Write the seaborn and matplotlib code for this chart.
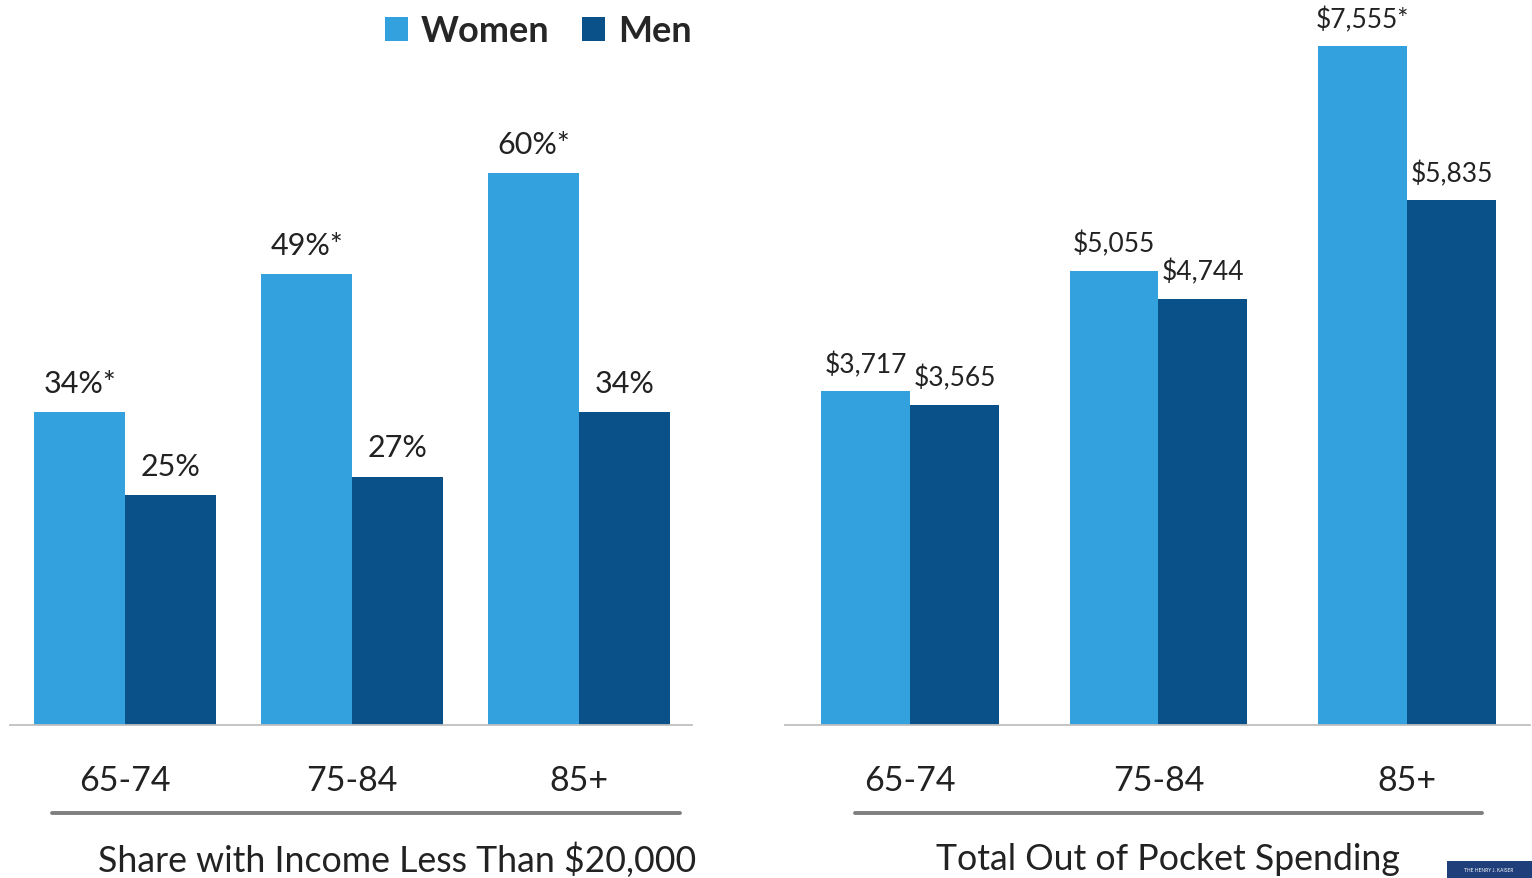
import matplotlib
matplotlib.use("Agg")
import matplotlib.pyplot as plt
import seaborn as sns
import pandas as pd
from matplotlib.patches import Patch, Rectangle
from matplotlib.lines import Line2D

# ---- data ----
age_groups = ["65-74", "75-84", "85+"]
series = ["Women", "Men"]
income_women = [34, 49, 60]
income_men = [25, 27, 34]
income_women_sig = [True, True, True]
income_men_sig = [False, False, False]
spend_women = [3717, 5055, 7555]
spend_men = [3565, 4744, 5835]
spend_women_sig = [False, False, True]
spend_men_sig = [False, False, False]
panel_titles = ["Share with Income Less Than $20,000", "Total Out of Pocket Spending"]
logo_text = "THE HENRY J. KAISER"

palette = {"Women": "#33A1DE", "Men": "#0A5089"}

sns.set_style("white")
plt.rcParams["font.family"] = ["Lato", "DejaVu Sans"]

W, H = 1532, 879
fig = plt.figure(figsize=(W / 100, H / 100), dpi=100)


def make_df(women, men):
    rows = []
    for g, w, m in zip(age_groups, women, men):
        rows.append({"age": g, "sex": "Women", "value": w})
        rows.append({"age": g, "sex": "Men", "value": m})
    return pd.DataFrame(rows)


def style_axis(ax):
    for s in ["top", "right", "left"]:
        ax.spines[s].set_visible(False)
    ax.spines["bottom"].set_color("#BFBFBF")
    ax.spines["bottom"].set_linewidth(1.3)
    ax.set_yticks([])
    ax.set_xlabel("")
    ax.set_ylabel("")
    ax.tick_params(axis="x", length=0, labelsize=24.5, pad=28, labelcolor="#222222")


# ---- left panel ----
axL = fig.add_axes([10 / W, 153 / H, 682 / W, 644 / H])
dfL = make_df(income_women, income_men)
sns.barplot(data=dfL, x="age", y="value", hue="sex", hue_order=series,
            palette=palette, width=0.8, saturation=1, legend=False, ax=axL,
            errorbar=None, linewidth=0, edgecolor="none")
axL.set_ylim(0, 70)
axL.set_xlim(-0.507, 2.498)
style_axis(axL)
for cont, vals, sig in zip(axL.containers, [income_women, income_men],
                           [income_women_sig, income_men_sig]):
    labels = [f"{v}%" + ("*" if s else "") for v, s in zip(vals, sig)]
    axL.bar_label(cont, labels=labels, padding=11, fontsize=22, color="#222222")

# ---- right panel ----
axR = fig.add_axes([785 / W, 153 / H, 745 / W, 726 / H])
dfR = make_df(spend_women, spend_men)
sns.barplot(data=dfR, x="age", y="value", hue="sex", hue_order=series,
            palette=palette, width=0.716, saturation=1, legend=False, ax=axR,
            errorbar=None, linewidth=0, edgecolor="none")
axR.set_ylim(0, 726 / 0.0899)
axR.set_xlim(-0.503, 2.495)
style_axis(axR)
for cont, vals, sig in zip(axR.containers, [spend_women, spend_men],
                           [spend_women_sig, spend_men_sig]):
    labels = [f"${v:,}" + ("*" if s else "") for v, s in zip(vals, sig)]
    axR.bar_label(cont, labels=labels, padding=10, fontsize=19, color="#222222")

# ---- separators and titles ----
yline = 1 - 814 / H
fig.add_artist(Line2D([52 / W, 680 / W], [yline, yline], transform=fig.transFigure,
                      color="#7F7F7F", lw=2.8))
fig.add_artist(Line2D([855 / W, 1482 / W], [yline, yline], transform=fig.transFigure,
                      color="#7F7F7F", lw=2.8))
fig.text(397 / W, 1 - 860 / H, panel_titles[0], ha="center", va="center",
         fontsize=25.7, color="#222222")
fig.text(1168 / W, 1 - 860 / H, panel_titles[1], ha="center", va="center",
         fontsize=25.7, color="#222222")

# ---- legend ----
handles = [Patch(facecolor=palette[s], edgecolor="none") for s in series]
fig.legend(handles, series, loc="center", bbox_to_anchor=(538 / W, 1 - 32 / H),
           ncol=2, frameon=False, prop={"weight": "bold", "size": 26},
           handlelength=0.65, handleheight=0.65, columnspacing=0.9,
           handletextpad=0.35)

# ---- logo ----
fig.add_artist(Rectangle((1447 / W, 0), 85 / W, 17 / H, transform=fig.transFigure,
                         facecolor="#1F3F7A", edgecolor="none"))
fig.text(1489 / W, 8 / H, logo_text, ha="center", va="center", fontsize=3.5,
         color="white")

fig.savefig("out.png", dpi=100)
